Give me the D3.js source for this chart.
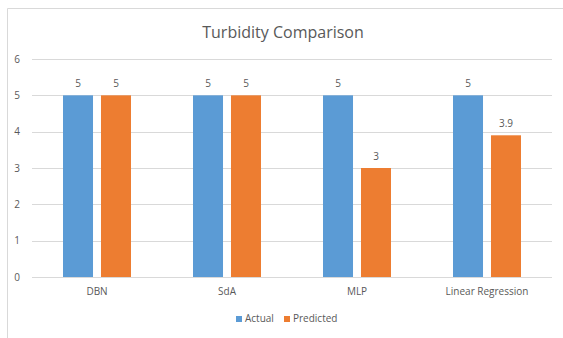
<!DOCTYPE html>
<html><head><meta charset="utf-8">
<script src="https://cdn.jsdelivr.net/npm/d3@7"></script>
<style>body{margin:0;background:#fff}svg{display:block}text{font-family:"Open Sans",sans-serif}</style>
</head><body><svg id="c" width="563" height="338"></svg>
<script>
const categories = ["DBN", "SdA", "MLP", "Linear Regression"];
const actual = [5, 5, 5, 5];
const predicted = [5, 5, 3, 3.9];
const seriesNames = ["Actual", "Predicted"];
const colors = ["#5b9bd5", "#ed7d31"];
const yTicks = [0, 1, 2, 3, 4, 5, 6];

const svg = d3.select("#c");
// frame
svg.append("path").attr("d", "M7.5,338 V8.5 H563").attr("fill", "none").attr("stroke", "#d9d9d9");

const m = {l: 32, r: 11, t: 59, b: 61};
const W = 563, H = 338;
const x = d3.scaleBand().domain(categories).range([m.l, W - m.r]).paddingInner(0).paddingOuter(0);
const y = d3.scaleLinear().domain([0, 6]).range([H - m.b, m.t]);
const inner = 68;
const x1 = d3.scaleBand().domain(seriesNames).range([0, inner]).paddingInner(0.21);

// grid
svg.append("g").selectAll("line").data(yTicks).join("line")
  .attr("x1", m.l).attr("x2", W - m.r)
  .attr("y1", d => Math.round(y(d)) + 0.5).attr("y2", d => Math.round(y(d)) + 0.5)
  .attr("stroke", "#d9d9d9");

// y axis labels
const yAxis = d3.axisLeft(y).tickValues(yTicks).tickFormat(d3.format("d")).tickSize(0).tickPadding(0);
const ga = svg.append("g").attr("transform", `translate(${m.l - 12},0)`).call(yAxis);
ga.select(".domain").remove();
ga.selectAll("text").attr("fill", "#595959").style("font-size", "10px").style("font-family", "'Open Sans',sans-serif");

// x axis labels
const xAxis = d3.axisBottom(x).tickSize(0).tickPadding(0);
const gx = svg.append("g").attr("transform", `translate(0,${H - m.b + 11})`).call(xAxis);
gx.select(".domain").remove();
gx.selectAll("text").attr("fill", "#595959").style("font-size", "10px").style("font-family", "'Open Sans',sans-serif");

const data = categories.map((c, i) => ({c, vals: [{s: "Actual", v: actual[i]}, {s: "Predicted", v: predicted[i]}]}));
const grp = svg.append("g").selectAll("g").data(data).join("g")
  .attr("transform", d => `translate(${x(d.c) + x.bandwidth() / 2 - inner / 2},0)`);
grp.selectAll("rect").data(d => d.vals).join("rect")
  .attr("x", d => x1(d.s)).attr("width", x1.bandwidth())
  .attr("y", d => y(d.v)).attr("height", d => y(0) - y(d.v))
  .attr("fill", (d, i) => colors[i]);
grp.selectAll("text").data(d => d.vals).join("text")
  .attr("x", d => x1(d.s) + x1.bandwidth() / 2).attr("y", d => y(d.v) - 8)
  .attr("text-anchor", "middle").attr("fill", "#595959").style("font-size", "10px")
  .text(d => d.v);

// title
svg.append("text").attr("x", 283).attr("y", 38).attr("text-anchor", "middle")
  .attr("fill", "#595959").style("font-size", "16px").text("Turbidity Comparison");

// legend
const lg = svg.append("g").attr("transform", "translate(236,322)");
const items = [{n: seriesNames[0], x: 0}, {n: seriesNames[1], x: 48}];
items.forEach((it, i) => {
  lg.append("rect").attr("x", it.x).attr("y", -6).attr("width", 6).attr("height", 6).attr("fill", colors[i]);
  lg.append("text").attr("x", it.x + 9).attr("y", 0).attr("fill", "#595959").style("font-size", "10px").text(it.n);
});
</script></body></html>
